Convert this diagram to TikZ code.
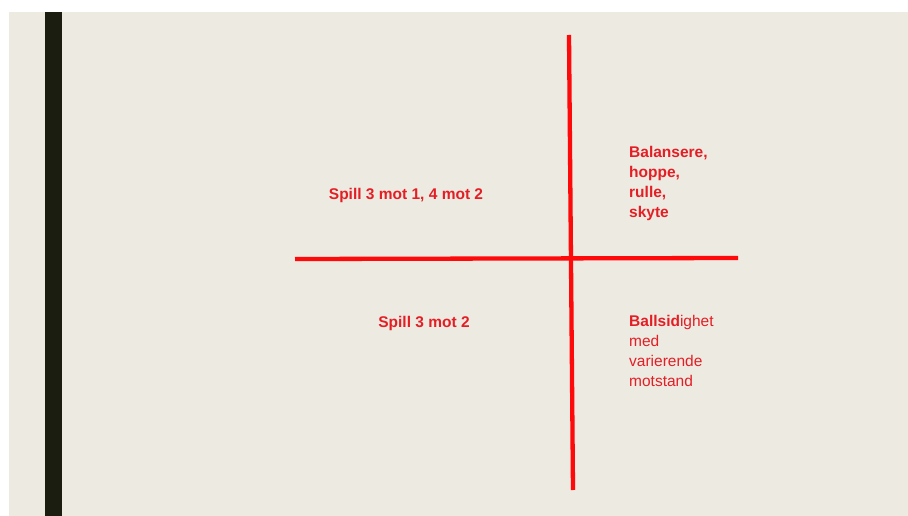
\documentclass[tikz,border=0pt]{standalone}
\usepackage{fontspec}
\setmainfont{Liberation Sans}
\usepackage{tikz}
\usetikzlibrary{positioning}

\definecolor{slidebg}{HTML}{EDEAE2}
\definecolor{slidebar}{HTML}{1C1D11}
\definecolor{crossred}{HTML}{FF0A0A}
\definecolor{textred}{HTML}{E41E25}

\tikzset{
  axis/.style={crossred, line width=4.3pt},
  label/.style={textred, font=\fontsize{15.5}{20}\selectfont, inner sep=0pt},
  quad/.style={label, align=left, anchor=north west}
}

\begin{document}
\begin{tikzpicture}[x=1pt,y=-1pt]
            \useasboundingbox (0,0) rectangle (908,516);
            \fill[slidebg] (9,12) rectangle (908,516);
            \fill[slidebar] (45,12) rectangle (62,516);
            % axes
            \coordinate (top) at (569,35);
            \coordinate (bottom) at (573,490);
            \coordinate (left) at (295,259);
            \coordinate (right) at (738,258);
            \draw[axis] (top) -- (bottom);
            \draw[axis] (left) -- (right);
            % quadrants
            \node[label] (tl) at (406,195) {\textbf{Spill 3 mot 1, 4 mot 2}};
            \node[label] (bl) at (424,323) {\textbf{Spill 3 mot 2}};
            \node[quad] (tr) at (629,146) {\textbf{Balansere,}\\\textbf{hoppe,}\\\textbf{rulle,}\\\textbf{skyte}};
            \node[quad] (br) at (629,315) {\textbf{Ballsid}ighet\\med\\varierende\\motstand};
        \end{tikzpicture}
\end{document}
